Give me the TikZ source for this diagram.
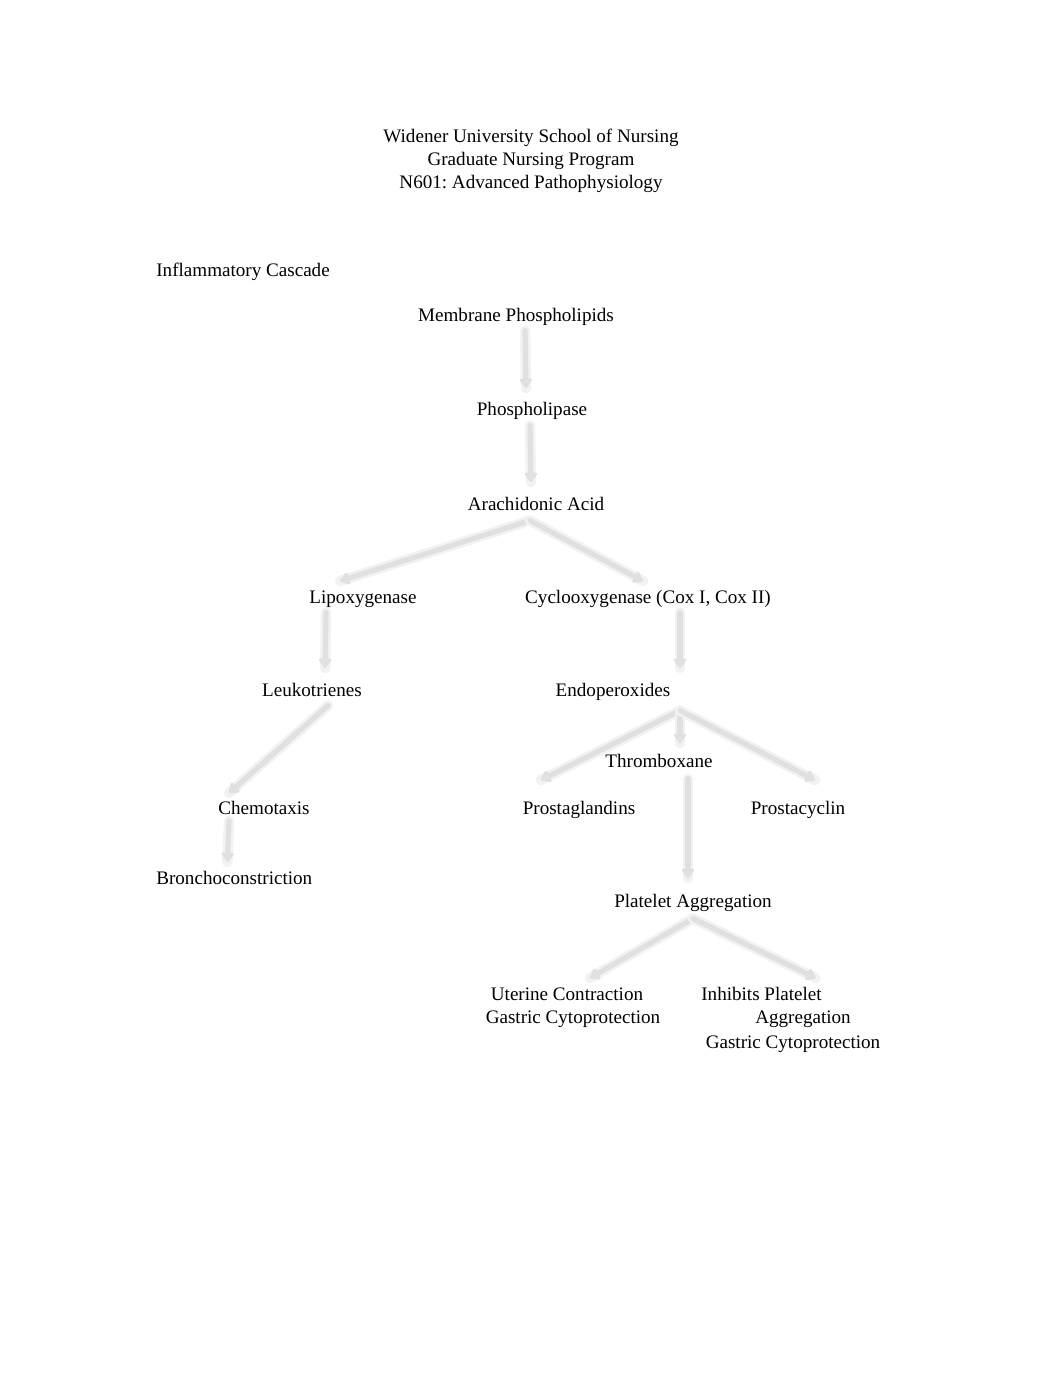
\documentclass[tikz,border=0pt]{standalone}
\usepackage{fontspec}
\setmainfont{Liberation Serif}
\usetikzlibrary{arrows.meta,calc,backgrounds}
\frenchspacing

\begin{document}
\begin{tikzpicture}[
		x=0.576pt, y=-0.576pt,
		lbl/.style={inner sep=0pt, anchor=base, text height=9pt, text depth=3pt, font=\fontsize{11}{13.2}\selectfont},
		lblleft/.style={lbl, anchor=base west},
		flowline/.style={draw=black!12, line width=3pt, line cap=round,
			-{Triangle[round, width=8pt, length=6pt]},
			preaction={draw=black!5, line width=6pt, line cap=round, -}}
		]
		
		\useasboundingbox (0,0) rectangle (1062,1377);
		
		% ---------------------------------------------------------
		% Heading
		% ---------------------------------------------------------
		\foreach \nm/\yy/\txt in {hdrA/143/Widener University School of Nursing,
			hdrB/166/Graduate Nursing Program,
			hdrC/189/N601: Advanced Pathophysiology} {
			\node[lbl] (\nm) at (531,\yy) {\txt};
		}
		\node[lblleft] (title) at (156,277) {Inflammatory Cascade};
		
		% ---------------------------------------------------------
		% Cascade labels
		% ---------------------------------------------------------
		\node[lbl] (memb) at (516,322) {Membrane Phospholipids};
		\node[lbl] (phlip) at (532,415) {Phospholipase};
		\node[lbl] (arach) at (536,510) {Arachidonic Acid};
		\node[lbl] (lipox) at (363,603) {Lipoxygenase};
		\node[lbl] (cyclo) at (648,603) {Cyclooxygenase (Cox I, Cox II)};
		\node[lbl] (leuko) at (312,696) {Leukotrienes};
		\node[lbl] (endo) at (613,696) {Endoperoxides};
		\node[lbl] (thromb) at (659,767) {Thromboxane};
		\node[lbl] (chemo) at (264,814) {Chemotaxis};
		\node[lbl] (pglan) at (579,814) {Prostaglandins};
		\node[lbl] (pcyc) at (798,814) {Prostacyclin};
		\node[lblleft] (broncho) at (156,884) {Bronchoconstriction};
		\node[lbl] (platagg) at (693,907) {Platelet Aggregation};
		
		% effects
		\node[lbl] (uterA) at (567,1000) {Uterine Contraction};
		\node[lbl] (uterB) at (573,1023) {Gastric Cytoprotection};
		\node[lblleft] (inhA) at (701,1000) {Inhibits Platelet};
		\node[lbl] (inhB) at (803,1023) {Aggregation};
		\node[lbl] (inhC) at (793,1048) {Gastric Cytoprotection};
		
		% ---------------------------------------------------------
		% Arrows (behind the text)
		% ---------------------------------------------------------
		\begin{scope}[on background layer]
			\draw[flowline] ($(memb.south)+(9,3)$) -- ($(phlip.north)+(-6,-11)$);
			\draw[flowline] ($(phlip.south)+(-2,5)$) -- ($(arach.north)+(-5,-12)$);
			
			% split to the two enzymes
			\draw[flowline] ($(arach.south)+(-6,5)$) -- ($(lipox.north)+(-23,-6)$);
			\draw[flowline] ($(arach.south)+(-6,5)$) -- ($(cyclo.north)+(-5,-6)$);
			
			% lipoxygenase side
			\draw[flowline] ($(lipox.south)+(-37,4)$) -- ($(leuko.north)+(13,-12)$);
			\draw[flowline] ($(leuko.south)+(16,4)$) -- ($(chemo.north)+(-35,-5)$);
			\draw[flowline] ($(chemo.south)+(-35,1)$) -- ($(broncho.north)+(-7,-6)$);
			
			% cyclooxygenase side
			\draw[flowline] ($(cyclo.south)+(32,4)$) -- ($(endo.north)+(67,-12)$);
			\draw[flowline] ($(endo.south)+(67,9)$) -- ($(pglan.north)+(-38,-18)$);
			\draw[flowline] ($(endo.south)+(67,9)$) -- ($(thromb.north)+(21,-8)$);
			\draw[flowline] ($(endo.south)+(67,9)$) -- ($(pcyc.north)+(17,-18)$);
			\draw[flowline] ($(thromb.south)+(29,6)$) -- ($(platagg.north)+(-5,-13)$);
			
			% platelet aggregation effects
			\draw[flowline] ($(platagg.south)+(0,6)$) -- ($(uterA.north)+(23,-6)$);
			\draw[flowline] ($(platagg.south)+(0,6)$) -- ($(inhA.north)+(54,-6)$);
		\end{scope}
		
	\end{tikzpicture}
\end{document}
